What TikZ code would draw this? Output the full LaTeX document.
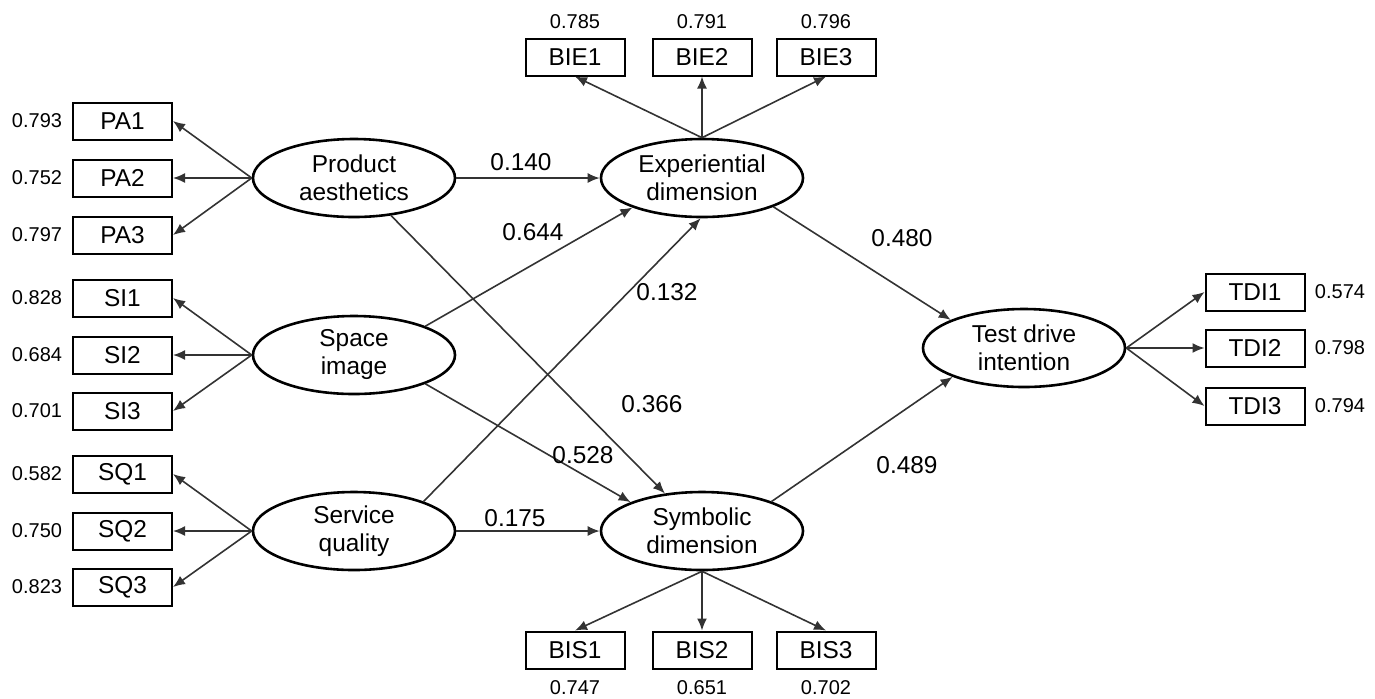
\documentclass[tikz,border=0pt]{standalone}
\usepackage{fontspec}
\setmainfont{Liberation Sans}
\usetikzlibrary{shapes.geometric,arrows.meta}
\begin{document}
\begin{tikzpicture}[x=0.5pt,y=-0.5pt,
  lat/.style={ellipse,draw=black,line width=1.3pt,minimum width=101pt,minimum height=39pt,inner sep=0pt,align=center,font=\fontsize{12.2}{14}\selectfont},
  ind/.style={rectangle,draw=black,line width=1pt,minimum width=49.5pt,minimum height=18.5pt,inner sep=0pt,font=\fontsize{12.2}{14}\selectfont},
  val/.style={inner sep=0pt,font=\fontsize{10}{12}\selectfont},
  coef/.style={inner sep=0pt,font=\fontsize{12.2}{14}\selectfont},
  arr/.style={draw=black!80,line width=0.8pt,-{Latex[length=6pt,width=5pt]}}]
\useasboundingbox (0,0) rectangle (1375,698);
% latent variables
\node[lat] (PA) at (354,178) {Product\\aesthetics};
\node[lat] (SI) at (354,355) {Space\\image};
\node[lat] (SQ) at (354,531) {Service\\quality};
\node[lat] (EX) at (702,178) {Experiential\\dimension};
\node[lat] (SY) at (702,531) {Symbolic\\dimension};
\node[lat] (TD) at (1024,348) {Test drive\\intention};
% indicators
\node[ind] (PA1) at (122.5,121) {PA1};
\node[ind] (PA2) at (122.5,178) {PA2};
\node[ind] (PA3) at (122.5,235) {PA3};
\node[ind] (SI1) at (122.5,298) {SI1};
\node[ind] (SI2) at (122.5,355) {SI2};
\node[ind] (SI3) at (122.5,411) {SI3};
\node[ind] (SQ1) at (122.5,474) {SQ1};
\node[ind] (SQ2) at (122.5,531) {SQ2};
\node[ind] (SQ3) at (122.5,587) {SQ3};
\node[ind] (BIE1) at (575,57) {BIE1};
\node[ind] (BIE2) at (702,57) {BIE2};
\node[ind] (BIE3) at (826,57) {BIE3};
\node[ind] (BIS1) at (575,650) {BIS1};
\node[ind] (BIS2) at (702,650) {BIS2};
\node[ind] (BIS3) at (826,650) {BIS3};
\node[ind] (TDI1) at (1255,292) {TDI1};
\node[ind] (TDI2) at (1255,348) {TDI2};
\node[ind] (TDI3) at (1255,406) {TDI3};
% loading values
\node[val] (vPA1) at (37,121) {0.793};
\node[val] (vPA2) at (37,178) {0.752};
\node[val] (vPA3) at (37,235) {0.797};
\node[val] (vSI1) at (37,298) {0.828};
\node[val] (vSI2) at (37,355) {0.684};
\node[val] (vSI3) at (37,411) {0.701};
\node[val] (vSQ1) at (37,474) {0.582};
\node[val] (vSQ2) at (37,531) {0.750};
\node[val] (vSQ3) at (37,587) {0.823};
\node[val] (vBIE1) at (575,22) {0.785};
\node[val] (vBIE2) at (702,22) {0.791};
\node[val] (vBIE3) at (826,22) {0.796};
\node[val] (vBIS1) at (575,688) {0.747};
\node[val] (vBIS2) at (702,688) {0.651};
\node[val] (vBIS3) at (826,688) {0.702};
\node[val] (vTDI1) at (1340,292) {0.574};
\node[val] (vTDI2) at (1340,348) {0.798};
\node[val] (vTDI3) at (1340,406) {0.794};
% loading arrows
\foreach \i in {1,2,3}{
  \draw[arr] (PA.west) -- (PA\i.east);
  \draw[arr] (SI.west) -- (SI\i.east);
  \draw[arr] (SQ.west) -- (SQ\i.east);
  \draw[arr] (EX.north) -- (BIE\i.south);
  \draw[arr] (SY.south) -- (BIS\i.north);
  \draw[arr] (TD.east) -- (TDI\i.west);
}
% structural paths
\draw[arr] (PA.east) -- (EX.west);
\draw[arr] (PA) -- (SY);
\draw[arr] (SI.22) -- (EX.203);
\draw[arr] (SQ.23) -- (EX.268);
\draw[arr] (SI.338) -- (SY.158);
\draw[arr] (SQ.east) -- (SY.west);
\draw[arr] (EX.338) -- (TD.159);
\draw[arr] (SY.23) -- (TD.202);
% path coefficients
\node[coef] (c1) at (521,162) {0.140};
\node[coef] (c2) at (533,232) {0.644};
\node[coef] (c3) at (667,292) {0.132};
\node[coef] (c4) at (652,404) {0.366};
\node[coef] (c5) at (583,455) {0.528};
\node[coef] (c6) at (515,518) {0.175};
\node[coef] (c7) at (902,238) {0.480};
\node[coef] (c8) at (907,465) {0.489};
\end{tikzpicture}
\end{document}
